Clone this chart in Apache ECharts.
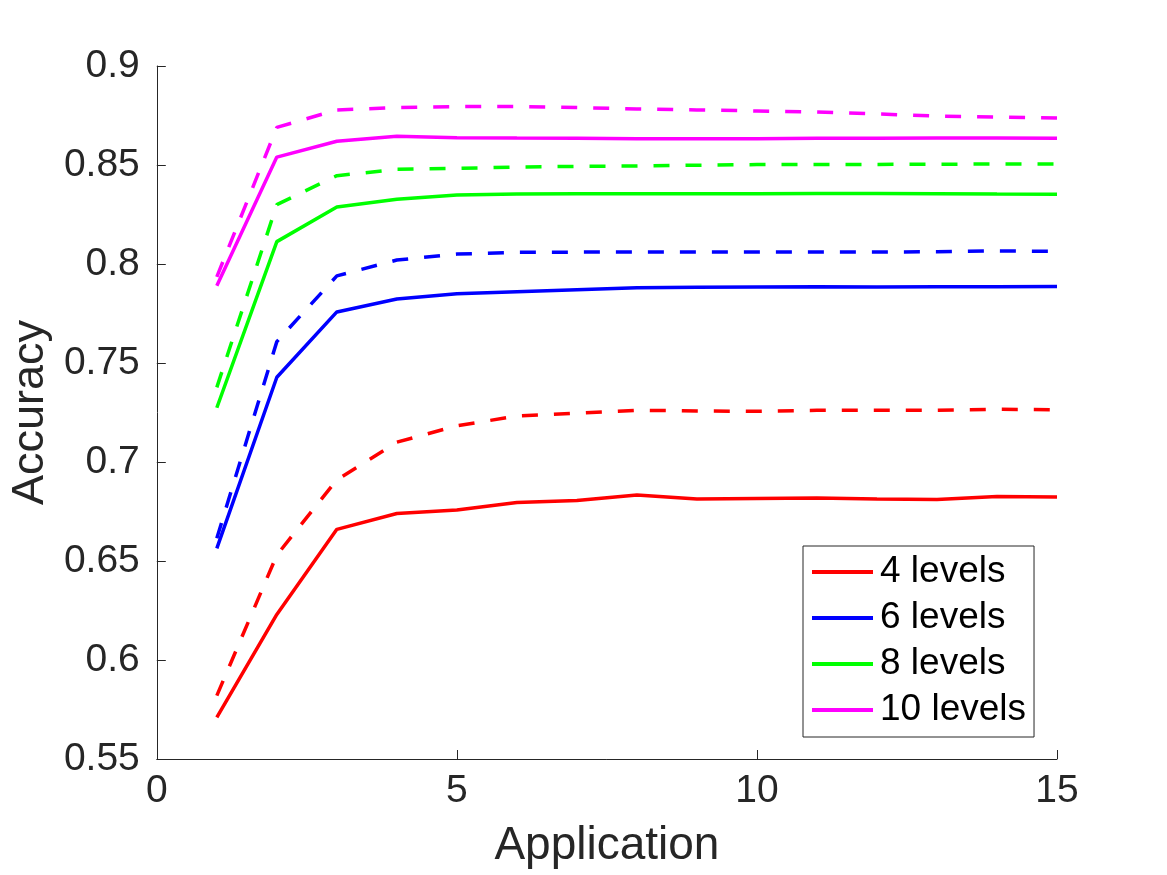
<!DOCTYPE html>
<html>
<head>
<meta charset="utf-8">
<script src="https://cdn.jsdelivr.net/npm/echarts@6/dist/echarts.min.js"></script>
<style>
html,body{margin:0;padding:0;background:#fff;}
#chart{width:1167px;height:875px;}
</style>
</head>
<body>
<div id="chart"></div>
<script>
const applications = [1,2,3,4,5,6,7,8,9,10,11,12,13,14,15];
const legendNames = ['4 levels','6 levels','8 levels','10 levels'];
const colors = ['#ff0000','#0000ff','#00ff00','#ff00ff'];

const solid4  = [0.571,0.623,0.666,0.674,0.6758,0.6796,0.6806,0.6833,0.6813,0.6816,0.6818,0.6813,0.6811,0.6826,0.6823];
const dashed4 = [0.582,0.653,0.691,0.710,0.7183,0.7232,0.7246,0.7261,0.7258,0.7256,0.7261,0.7261,0.7261,0.7266,0.7264];
const solid6  = [0.6564,0.7428,0.7758,0.7823,0.7850,0.7860,0.7870,0.7880,0.7882,0.7884,0.7885,0.7884,0.7885,0.7885,0.7886];
const dashed6 = [0.6615,0.7608,0.794,0.802,0.805,0.8059,0.806,0.806,0.806,0.806,0.806,0.806,0.8062,0.8066,0.8064];
const solid8  = [0.7274,0.8113,0.8288,0.8327,0.8348,0.8354,0.8355,0.8355,0.8355,0.8355,0.8356,0.8356,0.8355,0.8353,0.8352];
const dashed8 = [0.7377,0.830,0.8446,0.8478,0.8483,0.849,0.8493,0.8495,0.8499,0.8502,0.8503,0.8503,0.8504,0.8505,0.8505];
const solid10 = [0.789,0.854,0.862,0.8645,0.8638,0.8636,0.8635,0.8633,0.8633,0.8633,0.8635,0.8635,0.8636,0.8636,0.8635];
const dashed10= [0.7935,0.869,0.8778,0.879,0.8795,0.8795,0.879,0.8783,0.8778,0.8773,0.8768,0.8758,0.8747,0.8742,0.8737];

const solidSets = [solid4, solid6, solid8, solid10];
const dashedSets = [dashed4, dashed6, dashed8, dashed10];

const pair = arr => applications.map((x,i)=>[x, arr[i]]);
const series = [];
solidSets.forEach((arr,i)=>{
  series.push({name: legendNames[i], type:'line', data: pair(arr), symbol:'none', showSymbol:false,
    lineStyle:{color:colors[i], width:3.5}, itemStyle:{color:colors[i]}, z:3});
});
dashedSets.forEach((arr,i)=>{
  series.push({name: legendNames[i]+' (dashed)', type:'line', data: pair(arr), symbol:'none', showSymbol:false,
    lineStyle:{color:colors[i], width:3.5, type:[16,16], cap:'butt'}, itemStyle:{color:colors[i]}, z:2});
});

const fontFam = '"Liberation Sans", Arial, Helvetica, sans-serif';
const chart = echarts.init(document.getElementById('chart'), null, {renderer:'canvas'});
chart.setOption({
  animation:false,
  backgroundColor:'#ffffff',
  textStyle:{fontFamily:fontFam},
  grid:{left:154, right:110, top:66, bottom:116, containLabel:false},
  legend:{
    data: legendNames.map(n=>({name:n, icon:'rect'})), orient:'vertical', left:803, top:546,
    itemWidth:61, itemHeight:4, itemGap:6,
    padding:[6,8,7,9],
    borderColor:'#262626', borderWidth:1, backgroundColor:'#fff',
    textStyle:{fontSize:37, color:'#000', fontFamily:fontFam, lineHeight:40, padding:[0,0,0,2]},
    selectedMode:false
  },
  xAxis:{
    type:'value', min:0, max:15, interval:5,
    name:'Application', nameLocation:'middle', nameGap:64,
    nameTextStyle:{fontSize:46, color:'#262626', fontFamily:fontFam},
    axisLine:{show:true, onZero:false, lineStyle:{color:'#262626', width:1}},
    axisTick:{show:true, inside:true, length:9, lineStyle:{color:'#262626'}},
    axisLabel:{fontSize:39, color:'#262626', margin:13, fontFamily:fontFam},
    splitLine:{show:false}
  },
  yAxis:{
    type:'value', min:0.55, max:0.9, interval:0.05,
    name:'Accuracy', nameLocation:'middle', nameGap:102, nameRotate:90,
    nameTextStyle:{fontSize:45, color:'#262626', fontFamily:fontFam},
    axisLine:{show:true, onZero:false, lineStyle:{color:'#262626', width:1}},
    axisTick:{show:true, inside:true, length:9, lineStyle:{color:'#262626'}},
    axisLabel:{fontSize:39, color:'#262626', margin:17, fontFamily:fontFam,
      formatter: v => String(+Number(v).toFixed(2))},
    splitLine:{show:false}
  },
  series: series
});
</script>
</body>
</html>
